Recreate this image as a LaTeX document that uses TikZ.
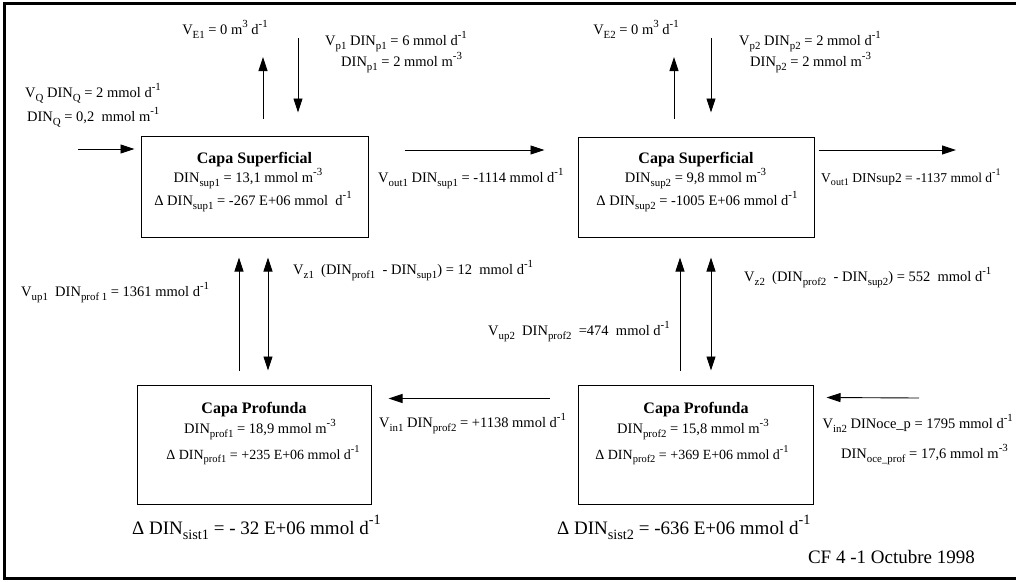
\documentclass[tikz,border=0pt]{standalone}
\usepackage{fontspec}
\setmainfont{Liberation Serif}
\usetikzlibrary{arrows.meta,calc}
\newcommand{\lw}[1]{\raisebox{-0.28em}{\scalebox{0.75}{#1}}}
\newcommand{\hg}[1]{\raisebox{0.48em}{\scalebox{0.75}{#1}}}
\newcommand{\fs}[1]{\fontsize{#1}{#1}\selectfont}

\begin{document}
\begin{tikzpicture}[x=1pt,y=-1pt,
  capa/.style={draw,line width=1pt,inner sep=0pt},
  flow/.style={line width=0.9pt,-{Triangle[length=14pt,width=9pt]}},
  flowboth/.style={line width=0.9pt,{Triangle[length=14pt,width=9pt]}-{Triangle[length=14pt,width=9pt]}},
  lbl/.style={inner sep=0pt,font=\fs{14.5}},
  boxlbl/.style={inner sep=0pt,anchor=base,font=\fs{14.5}},
  title/.style={inner sep=0pt,anchor=base,font=\fs{16}\bfseries},
  big/.style={inner sep=0pt,font=\fs{19}}]
\useasboundingbox (0,0) rectangle (1016,581);
\draw[line width=3pt] (1030,3) -- (4,3) -- (4,578) -- (1030,578);

% cajas
\node[capa,minimum width=227pt,minimum height=101pt] (sup1) at (254.5,186.5) {};
\node[capa,minimum width=236pt,minimum height=100pt] (sup2) at (696,187) {};
\node[capa,minimum width=234pt,minimum height=119pt] (prof1) at (254,444.5) {};
\node[capa,minimum width=235pt,minimum height=119pt] (prof2) at (695.5,444.5) {};

\node[title] (sup1a) at (254.5,163) {Capa Superficial};
\node[boxlbl] (sup1b) at (248,182) {DIN\lw{sup1} = 13,1 mmol m\hg{-3}};
\node[boxlbl] (sup1c) at (253,205) {Δ DIN\lw{sup1} = -267 E+06 mmol\ \ d\hg{-1}};
\node[title] (sup2a) at (696,163) {Capa Superficial};
\node[boxlbl] (sup2b) at (695.5,182) {DIN\lw{sup2} = 9,8 mmol m\hg{-3}};
\node[boxlbl] (sup2c) at (697,205) {Δ DIN\lw{sup2} = -1005 E+06 mmol d\hg{-1}};
\node[title] (prof1a) at (254,413) {Capa Profunda};
\node[boxlbl] (prof1b) at (260,433) {DIN\lw{prof1} = 18,9 mmol m\hg{-3}};
\node[boxlbl,font=\fs{14}] (prof1c) at (263,459) {Δ DIN\lw{prof1} = +235 E+06 mmol d\hg{-1}};
\node[title] (prof2a) at (696,413) {Capa Profunda};
\node[boxlbl] (prof2b) at (693,433) {DIN\lw{prof2} = 15,8 mmol m\hg{-3}};
\node[boxlbl,font=\fs{14}] (prof2c) at (692,459) {Δ DIN\lw{prof2} = +369 E+06 mmol d\hg{-1}};

% extremos libres
\coordinate (qin) at (78,149);
\coordinate (e1) at (263,57);
\coordinate (p1) at (298,38);
\coordinate (e2) at (674,57);
\coordinate (p2) at (711,38);
\coordinate (out2) at (956,150);
\coordinate (oce) at (919,398);

% flujos
\draw[flow] (qin) -- ($(sup1.west)+(-6,-37.5)$);
\draw[flow] ($(sup1.north)+(8.5,-17)$) -- (e1);
\draw[flow] (p1) -- ($(sup1.north)+(43.5,-23)$);
\draw[flow] ($(sup1.east)+(36,-36.5)$) -- ($(sup2.west)+(-33,-37)$);
\draw[flow] ($(sup2.east)+(4,-37)$) -- (out2);
\draw[flow] ($(sup2.north)+(-22,-18)$) -- (e2);
\draw[flow] (p2) -- ($(sup2.north)+(15,-24)$);
\draw[flow] ($(prof1.north)+(-15,-14)$) -- ($(sup1.south)+(-15.5,20)$);
\draw[flowboth] ($(sup1.south)+(13.5,20)$) -- ($(prof1.north)+(14,-14)$);
\draw[flow] ($(prof2.north)+(-15.5,-14)$) -- ($(sup2.south)+(-16,20)$);
\draw[flowboth] ($(sup2.south)+(15,20)$) -- ($(prof2.north)+(15.5,-14)$);
\draw[flow] ($(prof2.west)+(-28,-46)$) -- ($(prof1.east)+(17,-46)$);
\draw[flow] (oce) -- ($(prof2.east)+(13,-47)$);

% textos
\node[lbl,anchor=base] (tE1) at (225,34) {V\lw{E1} = 0 m\hg{3} d\hg{-1}};
\node[lbl,anchor=base west] (tp1) at (325,45) {V\lw{p1} DIN\lw{p1} = 6 mmol d\hg{-1}};
\node[lbl,anchor=base west] (tdp1) at (341,66) {DIN\lw{p1} = 2 mmol m\hg{-3}};
\node[lbl,anchor=base west] (tQ) at (25,97) {V\lw{Q} DIN\lw{Q} = 2 mmol d\hg{-1}};
\node[lbl,anchor=base west] (tdQ) at (27,121) {DIN\lw{Q} = 0,2\ \ mmol m\hg{-1}};
\node[lbl,anchor=base] (tE2) at (636,34) {V\lw{E2} = 0 m\hg{3} d\hg{-1}};
\node[lbl,anchor=base west] (tp2) at (739,45) {V\lw{p2} DIN\lw{p2} = 2 mmol d\hg{-1}};
\node[lbl,anchor=base west] (tdp2) at (750,66) {DIN\lw{p2} = 2 mmol m\hg{-3}};
\node[lbl,anchor=base west] (tout1) at (378,182) {V\lw{out1} DIN\lw{sup1} = -1114 mmol d\hg{-1}};
\node[lbl,anchor=base west,font=\fs{13.5}] (tout2) at (821,182) {V\lw{out1} DINsup2 = -1137 mmol d\hg{-1}};
\node[lbl,anchor=base west] (tz1) at (293,274) {V\lw{z1}\ \ (DIN\lw{prof1}\ \ - DIN\lw{sup1}) = 12\ \ mmol d\hg{-1}};
\node[lbl,anchor=base west] (tup1) at (21,296) {V\lw{up1}\ \ DIN\lw{prof 1} = 1361 mmol d\hg{-1}};
\node[lbl,anchor=base west] (tz2) at (744,281) {V\lw{z2}\ \ (DIN\lw{prof2}\ \ - DIN\lw{sup2}) = 552\ \ mmol d\hg{-1}};
\node[lbl,anchor=base west] (tup2) at (488,335) {V\lw{up2}\ \ DIN\lw{prof2}\ \ =474\ \ mmol d\hg{-1}};
\node[lbl,anchor=base west] (tin1) at (379,427) {V\lw{in1} DIN\lw{prof2} = +1138 mmol d\hg{-1}};
\node[lbl,anchor=base east] (tin2) at (1013,428) {V\lw{in2} DINoce\_p = 1795 mmol d\hg{-1}};
\node[lbl,anchor=base east] (toce) at (1008,458) {DIN\lw{oce\_prof} = 17,6 mmol m\hg{-3}};
\node[big,anchor=base west] (sist1) at (132,534) {Δ DIN\lw{sist1} = - 32 E+06 mmol d\hg{-1}};
\node[big,anchor=base west] (sist2) at (557,534) {Δ DIN\lw{sist2} = -636 E+06 mmol d\hg{-1}};
\node[big,anchor=base east] (fecha) at (975,563) {CF 4 -1 Octubre 1998};
\end{tikzpicture}
\end{document}
